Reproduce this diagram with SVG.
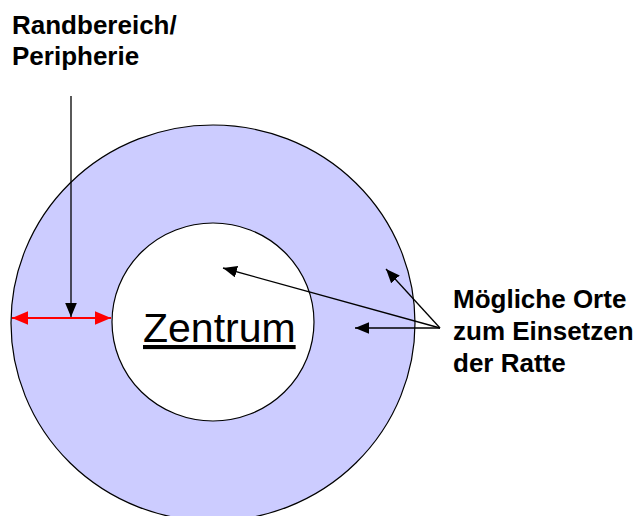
<svg xmlns="http://www.w3.org/2000/svg" width="642" height="516" viewBox="0 0 642 516">
<defs>
<style>
.lbl{font-family:"Liberation Sans",Arial,sans-serif;font-weight:bold;font-size:26px;fill:#000}
.ctr{font-family:"Liberation Sans",Arial,sans-serif;font-size:41px;fill:#000;text-decoration:underline}
.blk{stroke:#000;stroke-width:1.3;fill:none}
.red{stroke:#f00;stroke-width:2;fill:none}
</style>
<marker id="ab" markerUnits="userSpaceOnUse" markerWidth="14" markerHeight="12" refX="12" refY="5" orient="auto" viewBox="0 0 12 10">
<path d="M0,0 L12,5 L0,10 Z" fill="#000"/>
</marker>
<marker id="ar" markerUnits="userSpaceOnUse" markerWidth="16" markerHeight="14" refX="14" refY="6" orient="auto-start-reverse" viewBox="0 0 14 12">
<path d="M0,0 L14,6 L0,12 Z" fill="#f00"/>
</marker>
</defs>
<rect width="642" height="516" fill="#fff"/>
<g id="periphery">
<ellipse cx="213" cy="323" rx="202" ry="198" fill="#ccccff" stroke="#000" stroke-width="1.2"/>
</g>
<g id="center">
<ellipse cx="213" cy="322" rx="101" ry="99" fill="#fff" stroke="#000" stroke-width="1.2"/>
<text class="ctr" x="143" y="342">Zentrum</text>
</g>
<g id="label-periphery">
<text class="lbl" x="12" y="34">Randbereich/</text>
<text class="lbl" x="12" y="65">Peripherie</text>
</g>
<g id="label-orte">
<text class="lbl" x="453" y="308">Mögliche Orte</text>
<text class="lbl" x="453" y="340">zum Einsetzen</text>
<text class="lbl" x="453" y="372">der Ratte</text>
</g>
<g id="connectors">
<line class="blk" x1="71" y1="96" x2="71" y2="317" marker-end="url(#ab)"/>
<line class="red" x1="12" y1="318" x2="111" y2="318" marker-start="url(#ar)" marker-end="url(#ar)"/>
<line class="blk" x1="440" y1="328" x2="386" y2="269" marker-end="url(#ab)"/>
<line class="blk" x1="440" y1="328" x2="223" y2="268" marker-end="url(#ab)"/>
<line class="blk" x1="440" y1="328" x2="355" y2="328" marker-end="url(#ab)"/>
</g>
</svg>
